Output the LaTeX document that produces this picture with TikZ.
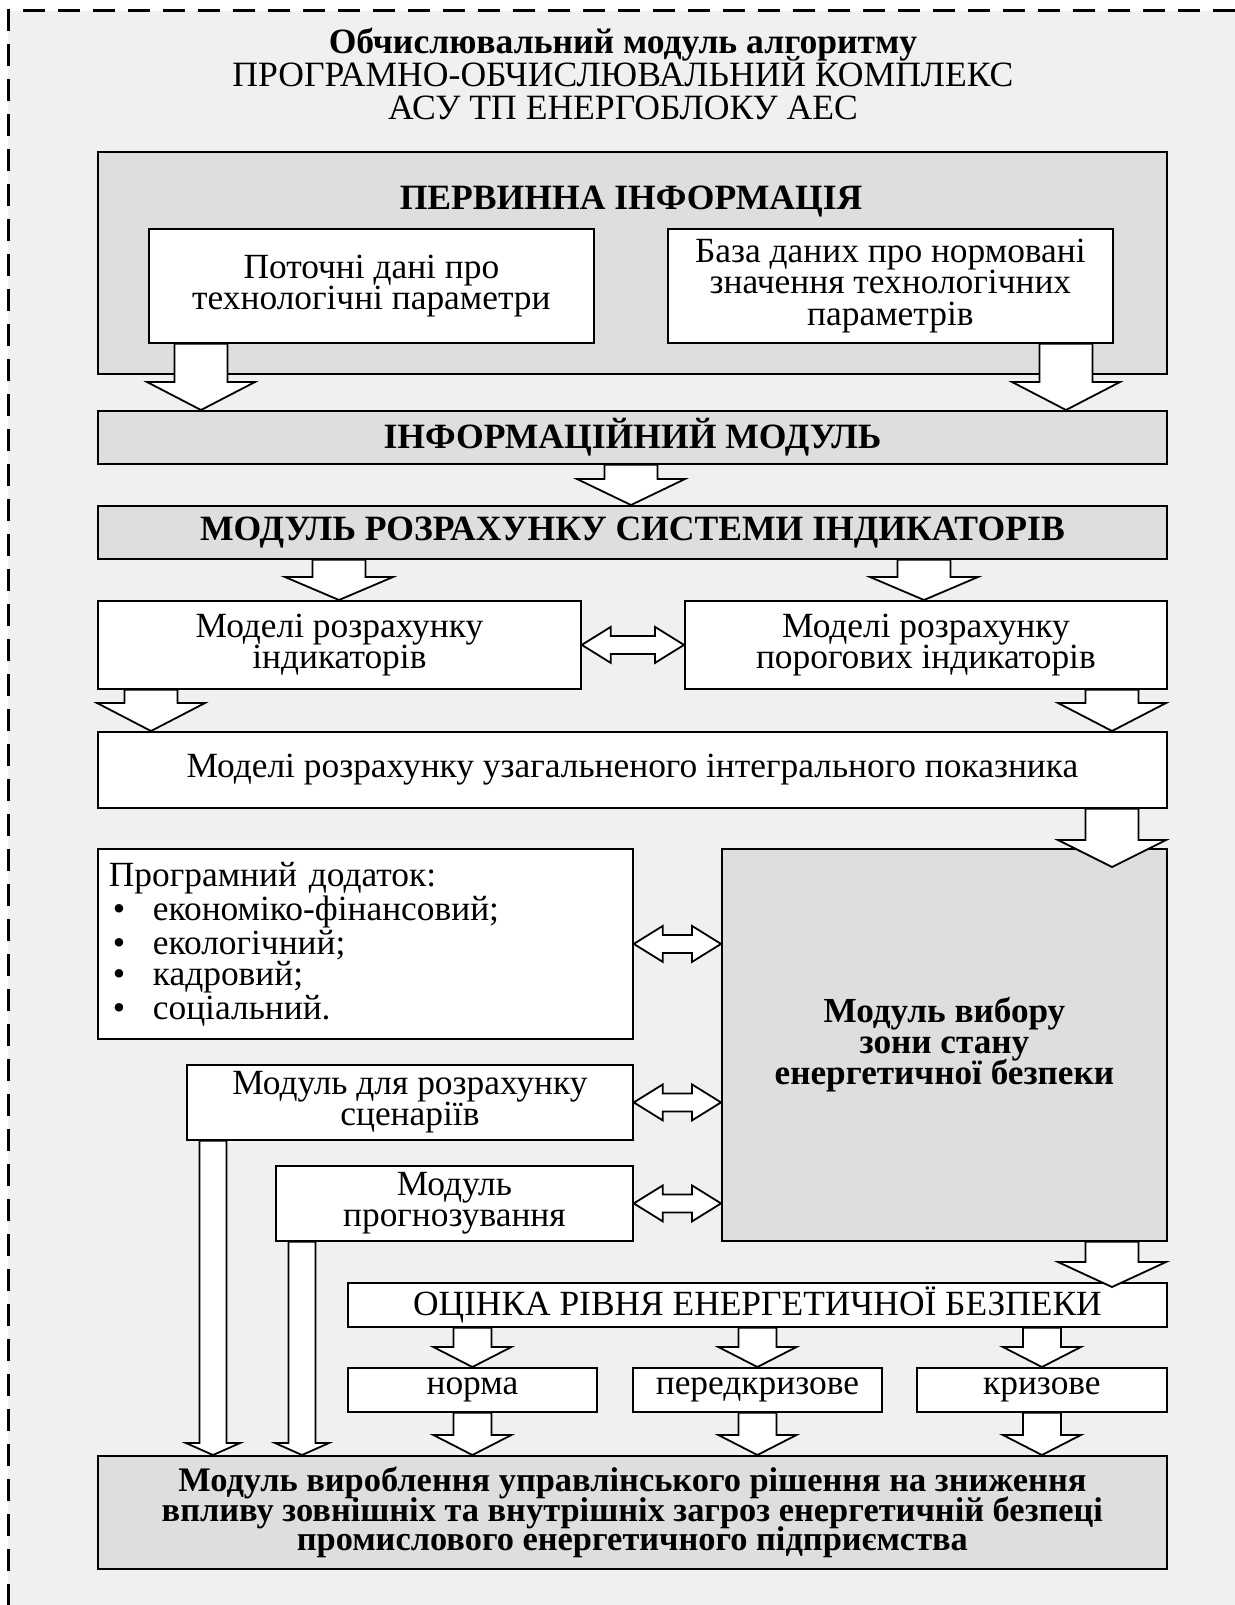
\documentclass[tikz,border=0pt]{standalone}
\usepackage{fontspec}
\setmainfont{Liberation Serif}
\usetikzlibrary{calc}

\definecolor{pagegray}{RGB}{240,240,240}
\definecolor{boxgray}{RGB}{222,222,222}

\lineskiplimit=-\maxdimen

% hollow block arrow down: top point, tip point, shaft half, head half, head length
\newcommand{\fatdown}[5]{%
  \draw[blockarrow] let \p1=#1, \p2=#2 in
    (\x1-#3,\y1) -- (\x1-#3,\y2+#5) -- (\x1-#4,\y2+#5) -- (\x1,\y2)
    -- (\x1+#4,\y2+#5) -- (\x1+#3,\y2+#5) -- (\x1+#3,\y1) -- cycle;}
% hollow block arrow with two heads: left tip, right tip, shaft half, head half, head length
\newcommand{\fatboth}[5]{%
  \draw[blockarrow] let \p1=#1, \p2=#2 in
    (\x1,\y1) -- (\x1+#5,\y1+#4) -- (\x1+#5,\y1+#3) -- (\x2-#5,\y1+#3)
    -- (\x2-#5,\y1+#4) -- (\x2,\y1) -- (\x2-#5,\y1-#4) -- (\x2-#5,\y1-#3)
    -- (\x1+#5,\y1-#3) -- (\x1+#5,\y1-#4) -- cycle;}

\begin{document}
\begin{tikzpicture}[x=0.5pt, y=-0.5pt,
    box/.style={draw, line width=0.9pt, inner sep=0pt, anchor=north west, align=center,
      font=\fontsize{17.7}{15.6}\selectfont},
    boxsize/.style 2 args={minimum width=#1*0.5pt, minimum height=#2*0.5pt},
    whitebox/.style={box, fill=white},
    graybox/.style={box, fill=boxgray},
    heading/.style={font=\bfseries\fontsize{17.8}{16}\selectfont},
    boldtext/.style={font=\bfseries\fontsize{17.6}{15.6}\selectfont},
    blockarrow/.style={draw, fill=white, line width=0.9pt}]
  \useasboundingbox (0,0) rectangle (1235,1605);
  \fill[white] (0,0) rectangle (1235,1605);
  \fill[pagegray] (8,11) rectangle (1235,1605);
  \draw[line width=1.5pt, dash pattern=on 11pt off 6.5pt] (1235,11) -- (8,11) -- (8,1605);
  %
  \node[align=center, font=\fontsize{17.8}{16.6}\selectfont] (title) at (623,74)
    {\textbf{Обчислювальний модуль алгоритму}\\
     ПРОГРАМНО-ОБЧИСЛЮВАЛЬНИЙ КОМПЛЕКС\\
     АСУ ТП ЕНЕРГОБЛОКУ АЕС};
  %
  \node[graybox, boxsize={1069}{222}] (perv) at (97,151) {};
  \node[heading, anchor=base] (pervtitle) at (631,210) {ПЕРВИННА ІНФОРМАЦІЯ};
  \node[whitebox, boxsize={445}{114}] (potochni) at (148,228) {Поточні дані про\\технологічні параметри};
  \node[whitebox, boxsize={445}{114}] (baza) at (667,228) {База даних про нормовані\\значення технологічних\\параметрів};
  %
  \node[graybox, heading, boxsize={1069}{53}] (info) at (97,410) {ІНФОРМАЦІЙНИЙ МОДУЛЬ};
  \node[graybox, heading, boxsize={1069}{53}] (rozrah) at (97,505) {МОДУЛЬ РОЗРАХУНКУ СИСТЕМИ ІНДИКАТОРІВ};
  \node[whitebox, boxsize={483}{88}] (modind) at (97,600) {Моделі розрахунку\\індикаторів};
  \node[whitebox, boxsize={482}{88}] (modpor) at (684,600) {Моделі розрахунку\\порогових індикаторів};
  \node[whitebox, boxsize={1069}{76}] (uzag) at (97,731) {Моделі розрахунку узагальненого інтегрального показника};
  %
  \node[whitebox, boxsize={535}{190}, text width=256.5pt, align=left] (dodatok) at (97,848)
    {Програмний додаток:\\
     \hspace*{2pt}\makebox[20pt][l]{•}економіко-фінансовий;\\
     \hspace*{2pt}\makebox[20pt][l]{•}екологічний;\\
     \hspace*{2pt}\makebox[20pt][l]{•}кадровий;\\
     \hspace*{2pt}\makebox[20pt][l]{•}соціальний.};
  \node[graybox, boldtext, boxsize={445}{392}] (vybir) at (721,848) {Модуль вибору\\зони стану\\енергетичної безпеки};
  \node[whitebox, boxsize={446}{75}] (scenar) at (186,1064) {Модуль для розрахунку\\сценаріїв};
  \node[whitebox, boxsize={357}{75}] (prognoz) at (275,1165) {Модуль\\прогнозування};
  %
  \node[whitebox, boxsize={819}{44}] (ocinka) at (347,1282) {ОЦІНКА РІВНЯ ЕНЕРГЕТИЧНОЇ БЕЗПЕКИ};
  \node[whitebox, boxsize={249}{44}] (norma) at (347,1367) {норма};
  \node[whitebox, boxsize={249}{44}] (peredkr) at (632,1367) {передкризове};
  \node[whitebox, boxsize={250}{44}] (kryz) at (916,1367) {кризове};
  \node[graybox, boldtext, boxsize={1069}{113}, font=\bfseries\fontsize{17.2}{14.6}\selectfont] (rishennya) at (97,1455)
    {Модуль вироблення управлінського рішення на зниження\\
     впливу зовнішніх та внутрішніх загроз енергетичній безпеці\\
     промислового енергетичного підприємства};
  %
  \fatdown{(potochni.south -| 201,0)}{(info.north -| 201,0)}{13.25pt}{27pt}{14pt}
  \fatdown{(baza.south -| 1066,0)}{(info.north -| 1066,0)}{13.25pt}{27pt}{14pt}
  \fatdown{(info.south -| 631,0)}{(rozrah.north -| 631,0)}{13.25pt}{27pt}{13pt}
  \fatdown{(rozrah.south -| 339,0)}{(modind.north -| 339,0)}{13.25pt}{27pt}{11.5pt}
  \fatdown{(rozrah.south -| 924,0)}{(modpor.north -| 924,0)}{13.25pt}{27pt}{11.5pt}
  \fatdown{(modind.south -| 151,0)}{(uzag.north -| 151,0)}{13.25pt}{27pt}{14pt}
  \fatdown{(modpor.south -| 1112,0)}{(uzag.north -| 1112,0)}{13.25pt}{27pt}{14pt}
  \fatdown{(uzag.south -| 1112,0)}{($(vybir.north -| 1112,0)+(0,19)$)}{13.25pt}{27pt}{13.5pt}
  \fatdown{(vybir.south -| 1112,0)}{($(ocinka.north -| 1112,0)+(0,5)$)}{13.25pt}{27pt}{12.5pt}
  %
  \fatboth{(modind.east)}{(modpor.west)}{4.5pt}{9pt}{14.5pt}
  \fatboth{(dodatok.east)}{(vybir.west |- dodatok.east)}{4.5pt}{9pt}{14.5pt}
  \fatboth{(scenar.east)}{(vybir.west |- scenar.east)}{4.5pt}{9pt}{14.5pt}
  \fatboth{(prognoz.east)}{(vybir.west |- prognoz.east)}{4.5pt}{9pt}{14.5pt}
  %
  \fatdown{(ocinka.south -| norma.north)}{(norma.north)}{9.5pt}{19.5pt}{10pt}
  \fatdown{(ocinka.south -| peredkr.north)}{(peredkr.north)}{9.5pt}{19.5pt}{10pt}
  \fatdown{(ocinka.south -| kryz.north)}{(kryz.north)}{9.5pt}{19.5pt}{10pt}
  \fatdown{(norma.south)}{(rishennya.north -| norma.south)}{9.5pt}{19.5pt}{10pt}
  \fatdown{(peredkr.south)}{(rishennya.north -| peredkr.south)}{9.5pt}{19.5pt}{10pt}
  \fatdown{(kryz.south)}{(rishennya.north -| kryz.south)}{9.5pt}{19.5pt}{10pt}
  %
  \fatdown{(scenar.south -| 213,0)}{(rishennya.north -| 213,0)}{6.75pt}{13.5pt}{6pt}
  \fatdown{(prognoz.south -| 302,0)}{(rishennya.north -| 302,0)}{6.75pt}{13.5pt}{6pt}
  %
\end{tikzpicture}
\end{document}
